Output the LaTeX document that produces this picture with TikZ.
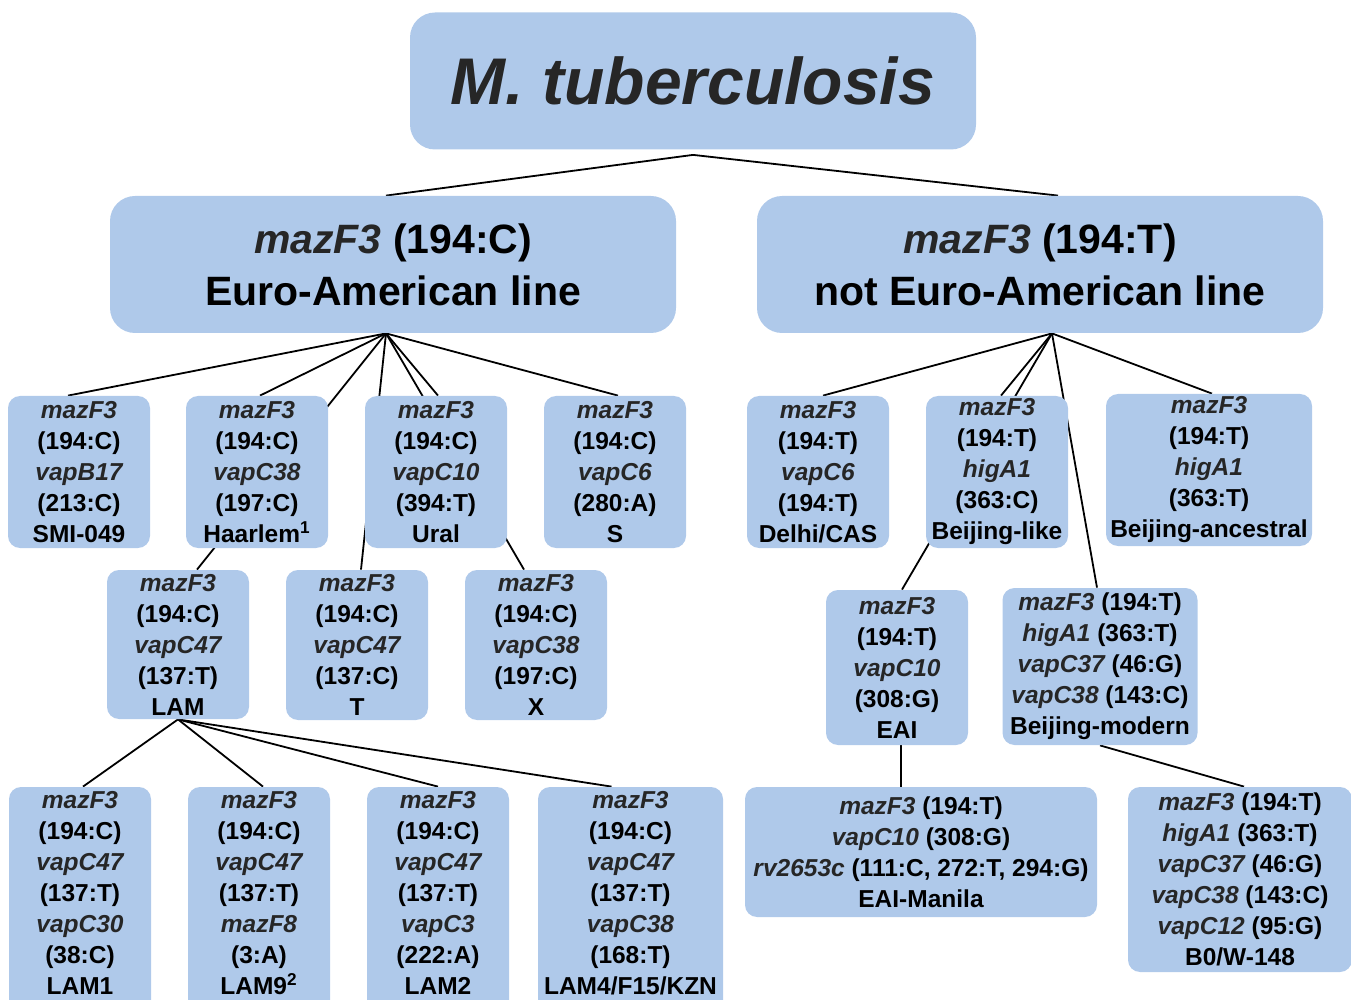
\documentclass[tikz,border=0pt]{standalone}
\usepackage{fontspec}
\setmainfont{Liberation Sans}
\usetikzlibrary{calc}
\definecolor{boxblue}{RGB}{175,201,234}
\definecolor{genegray}{RGB}{38,38,38}
\newcommand{\gene}[1]{{\color{genegray}\itshape #1}}
\pgfdeclarelayer{background}
\pgfsetlayers{background,main}
\tikzset{
	strain box/.style={
		rectangle,
		rounded corners=6pt,
		fill=boxblue,
		inner sep=0pt,
		align=center,
		font=\fontsize{12.25}{15.5}\selectfont\bfseries,
		minimum width=71pt,
		minimum height=76pt
	},
	lineage box/.style={
		strain box,
		rounded corners=12.5pt,
		font=\fontsize{20.5}{26}\selectfont\bfseries,
		minimum width=283pt,
		minimum height=68.5pt
	},
}

\begin{document}
\begin{tikzpicture}[x=0.5pt,y=-0.5pt]
\tikzset{edge line/.style = {line width=0.9pt, black}}
\useasboundingbox (0,0) rectangle (1351,1000);

\node[lineage box, font=\fontsize{33}{40}\selectfont\bfseries\itshape\color{genegray}] (tuberculosis) at (693,81) {M. tuberculosis};
	\node[lineage box] (euroLine) at (393,264.5) {\gene{mazF3} (194:C)\\Euro-American line};
		\node[strain box] (smi) at (79,472) {\gene{mazF3}\\(194:C)\\\gene{vapB17}\\(213:C)\\SMI-049};
		\node[strain box] (haarlem) at (257,472) {\gene{mazF3}\\(194:C)\\\gene{vapC38}\\(197:C)\\Haarlem\textsuperscript{1}};
		\node[strain box] (ural) at (436,472) {\gene{mazF3}\\(194:C)\\\gene{vapC10}\\(394:T)\\Ural};
		\node[strain box] (sType) at (615,472) {\gene{mazF3}\\(194:C)\\\gene{vapC6}\\(280:A)\\S};
			\node[strain box, minimum height=74.5pt] (lam) at (178,644.5) {\gene{mazF3}\\(194:C)\\\gene{vapC47}\\(137:T)\\LAM};
			\node[strain box, minimum height=75pt] (tType) at (357,645) {\gene{mazF3}\\(194:C)\\\gene{vapC47}\\(137:C)\\T};
			\node[strain box, minimum height=75pt] (xType) at (536,645) {\gene{mazF3}\\(194:C)\\\gene{vapC38}\\(197:C)\\X};
				\node[strain box, minimum height=121.5pt] (lamOne) at (80,908.5) {\gene{mazF3}\\(194:C)\\\gene{vapC47}\\(137:T)\\\gene{vapC30}\\(38:C)\\LAM1\\\mbox{}};
				\node[strain box, minimum height=121.5pt] (lamNine) at (259,908.5) {\gene{mazF3}\\(194:C)\\\gene{vapC47}\\(137:T)\\\gene{mazF8}\\(3:A)\\LAM9\textsuperscript{2}\\\mbox{}};
				\node[strain box, minimum height=121.5pt] (lamTwo) at (438,908.5) {\gene{mazF3}\\(194:C)\\\gene{vapC47}\\(137:T)\\\gene{vapC3}\\(222:A)\\LAM2\\\mbox{}};
				\node[strain box, minimum height=121.5pt, minimum width=92.5pt] (lamFour) at (630.5,908.5) {\gene{mazF3}\\(194:C)\\\gene{vapC47}\\(137:T)\\\gene{vapC38}\\(168:T)\\LAM4/F15/KZN\\\mbox{}};

	\node[lineage box] (notEuroLine) at (1040,264.5) {\gene{mazF3} (194:T)\\not Euro-American line};
		\node[strain box] (delhi) at (818,472) {\gene{mazF3}\\(194:T)\\\gene{vapC6}\\(194:T)\\Delhi/CAS};
		\node[strain box] (beijingLike) at (997,472) {\gene{mazF3}\\(194:T)\\\gene{higA1}\\(363:C)\\Beijing-like};
		\node[strain box, minimum width=103pt] (beijingAncestral) at (1209,470) {\gene{mazF3}\\(194:T)\\\gene{higA1}\\(363:T)\\Beijing-ancestral};
			\node[strain box, minimum height=77.5pt] (eai) at (897,667.5) {\gene{mazF3}\\(194:T)\\\gene{vapC10}\\(308:G)\\EAI};
			\node[strain box, minimum height=78.5pt, minimum width=97.5pt] (beijingModern) at (1100,666.5) {\gene{mazF3} (194:T)\\\gene{higA1} (363:T)\\\gene{vapC37} (46:G)\\\gene{vapC38} (143:C)\\Beijing-modern};
				\node[strain box, minimum height=65pt, minimum width=176pt] (eaiManila) at (921,852) {\gene{mazF3} (194:T)\\\gene{vapC10} (308:G)\\\gene{rv2653c} (111:C, 272:T, 294:G)\\EAI-Manila};
				\node[strain box, minimum height=92.5pt, minimum width=112pt] (bzeroW) at (1240,879.5) {\gene{mazF3} (194:T)\\\gene{higA1} (363:T)\\\gene{vapC37} (46:G)\\\gene{vapC38} (143:C)\\\gene{vapC12} (95:G)\\B0/W-148};

\begin{pgfonlayer}{background}
\draw[edge line] ($(tuberculosis.south)+(0,5)$) -- ($(euroLine.north)+(-7,0)$);
\draw[edge line] ($(tuberculosis.south)+(0,5)$) -- ($(notEuroLine.north)+(18,0)$);
\draw[edge line] ($(euroLine.south)+(-7,0)$) -- ($(smi.north)+(-11,0)$);
\draw[edge line] ($(euroLine.south)+(-7,0)$) -- ($(haarlem.north)+(3,0)$);
\draw[edge line] ($(euroLine.south)+(-7,0)$) -- ($(lam.north)+(19,0)$);
\draw[edge line] ($(euroLine.south)+(-7,0)$) -- ($(tType.north)+(4,0)$);
\draw[edge line] ($(euroLine.south)+(-7,0)$) -- ($(ural.north)+(2,0)$);
\draw[edge line] ($(euroLine.south)+(-7,0)$) -- ($(xType.north)+(-12,0)$);
\draw[edge line] ($(euroLine.south)+(-7,0)$) -- ($(sType.north)+(3,0)$);
\draw[edge line] ($(notEuroLine.south)+(12,0)$) -- ($(delhi.north)+(5,0)$);
\draw[edge line] ($(notEuroLine.south)+(12,0)$) -- ($(beijingLike.north)+(4,0)$);
\draw[edge line] ($(notEuroLine.south)+(12,0)$) -- ($(eai.north)+(5,0)$);
\draw[edge line] ($(notEuroLine.south)+(12,0)$) -- ($(beijingModern.north)+(-3,0)$);
\draw[edge line] ($(notEuroLine.south)+(12,0)$) -- ($(beijingAncestral.north)+(3,0)$);
\draw[edge line] (lam.south) -- ($(lamOne.north)+(3,0)$);
\draw[edge line] (lam.south) -- ($(lamNine.north)+(4,0)$);
\draw[edge line] (lam.south) -- (lamTwo.north);
\draw[edge line] (lam.south) -- ($(lamFour.north)+(-19,0)$);
\draw[edge line] ($(eai.south)+(4,0)$) -- ($(eaiManila.north)+(-20,0)$);
\draw[edge line] (beijingModern.south) -- ($(bzeroW.north)+(4,0)$);
\end{pgfonlayer}
\end{tikzpicture}
\end{document}
